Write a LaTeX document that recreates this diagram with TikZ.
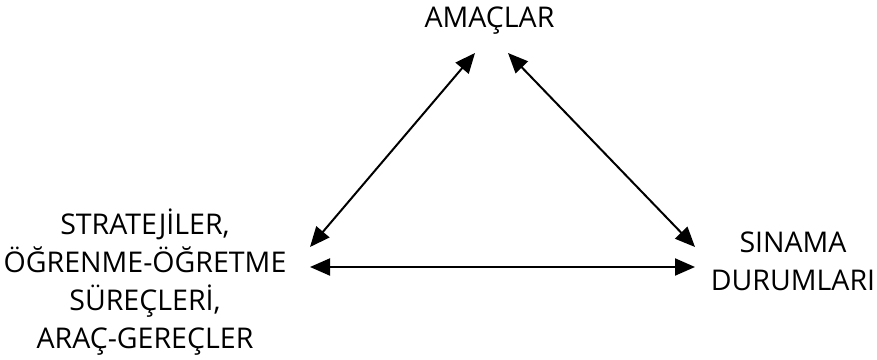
\documentclass[tikz,border=0pt]{standalone}
\usepackage{fontspec}
\setmainfont{Open Sans}
\usepackage{tikz}
\usetikzlibrary{
        arrows.meta,
        positioning
    }
\tikzset{>={Triangle[length=15pt,width=12.75pt]}}
\tikzset{lbl/.style={font=\fontsize{21.4}{28.3}\selectfont,align=center,inner sep=0pt,anchor=base}}

\begin{document}
\begin{tikzpicture}[x=0.75pt,y=-0.75pt]
                    \useasboundingbox (0,0) rectangle (877,360);
                    \node[lbl] (amac)   at (489.5,28) {AMAÇLAR};
                    \node[lbl] (strat)  at (145,348) {STRATEJİLER,\\ÖĞRENME-ÖĞRETME\\SÜREÇLERİ,\\ARAÇ-GEREÇLER};
                    \node[lbl] (sinama) at (793,290) {SINAMA\\DURUMLARI};
                    \path[<->,line width=1.5pt]
                        ([shift={(-14.5,25)}]amac.base) edge ([shift={(165,-101)}]strat.base)
                        ([shift={(18.5,25)}]amac.base)  edge ([shift={(-98,-43)}]sinama.base)
                        ([shift={(165,-81)}]strat.base) edge ([shift={(-98,-23)}]sinama.base);
                \end{tikzpicture}
\end{document}
